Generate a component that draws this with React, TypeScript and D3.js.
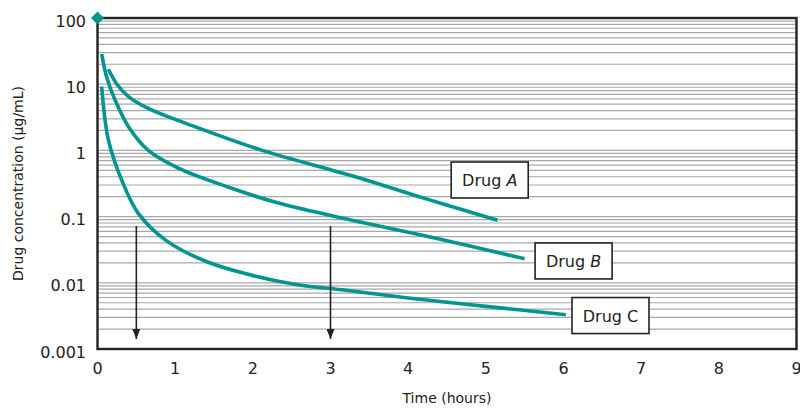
import React from "react";
import * as d3 from "d3";

const xTicks = [0, 1, 2, 3, 4, 5, 6, 7, 8, 9];
const yTicks = [0.001, 0.01, 0.1, 1, 10, 100];
const yTickLabels = ["0.001", "0.01", "0.1", "1", "10", "100"];

const drugATime = [0.14, 0.25, 0.4, 0.654, 1.255, 2.11, 3.32, 4.2, 5.15];
const drugAConc = [16.8, 10, 6.5, 4.3, 2.28, 1.01, 0.4, 0.19, 0.088];
const drugBTime = [0.054, 0.12, 0.225, 0.397, 0.654, 1.04, 1.68, 2.33, 3.32, 4.4, 5.5];
const drugBConc = [28.6, 12.5, 5.8, 2.3, 1.0, 0.54, 0.28, 0.16, 0.086, 0.046, 0.023];
const drugCTime = [0.054, 0.14, 0.31, 0.525, 0.89, 1.4, 1.9, 2.54, 3.2, 4, 5, 6.03];
const drugCConc = [9.2, 1.44, 0.36, 0.112, 0.043, 0.021, 0.0138, 0.0095, 0.0077, 0.0059, 0.0044, 0.0033];

const labels = [
  { name: "Drug ", letter: "A", italic: true, t: 5.05, c: 0.357 },
  { name: "Drug ", letter: "B", italic: true, t: 6.13, c: 0.0214 },
  { name: "Drug ", letter: "C", italic: false, t: 6.605, c: 0.0032 },
];
const arrowTimes = [0.5, 3];

const teal = "#00958f";
const font = "'DejaVu Sans', sans-serif";

export default function App() {
  const W = 800, H = 409;
  const x0 = 97.5, x1 = 796.5, y0 = 18, y1 = 349;
  const x = d3.scaleLinear().domain([0, 9]).range([x0, x1]);
  const y = d3.scaleLog().domain([0.001, 100]).range([y1, y0]);

  const grid: number[] = [];
  for (let e = -3; e < 2; e++) {
    for (let m = 1; m <= 9; m++) grid.push(m * Math.pow(10, e));
  }

  const line = d3
    .line<[number, number]>()
    .x((d) => x(d[0]))
    .y((d) => y(d[1]))
    .curve(d3.curveCatmullRom.alpha(0.5));

  const series = [
    drugATime.map((t, i) => [t, drugAConc[i]] as [number, number]),
    drugBTime.map((t, i) => [t, drugBConc[i]] as [number, number]),
    drugCTime.map((t, i) => [t, drugCConc[i]] as [number, number]),
  ];

  return (
    <svg width={W} height={H} style={{ display: "block", position: "absolute", left: 0, top: 0 }}>
      <defs>
        <marker id="arr" viewBox="0 0 10 8" refX="10" refY="4" markerWidth="10" markerHeight="8" markerUnits="userSpaceOnUse" orient="auto">
          <path d="M0,0 L10,4 L0,8 z" fill="#222" />
        </marker>
      </defs>
      <rect x={0} y={0} width={W} height={H} fill="#fff" />
      {grid.map((g, i) => (
        <line key={i} x1={x0} x2={x1} y1={y(g)} y2={y(g)} stroke="#a8a8a8" strokeWidth={1.2} />
      ))}
      {series.map((s, i) => (
        <path key={i} d={line(s) || ""} fill="none" stroke={teal} strokeWidth={3.6} strokeLinecap="butt" />
      ))}
      {arrowTimes.map((t, i) => (
        <line key={i} x1={x(t)} x2={x(t)} y1={226} y2={339} stroke="#222" strokeWidth={1.6} markerEnd="url(#arr)" />
      ))}
      <rect x={x0} y={y0} width={x1 - x0} height={y1 - y0} fill="none" stroke="#222" strokeWidth={2.4} />
      <path d={`M${x0},${y0 - 6.5} L${x0 + 6.5},${y0} L${x0},${y0 + 6.5} L${x0 - 6.5},${y0} Z`} fill={teal} />
      {labels.map((l, i) => {
        const bx = x(l.t), by = y(l.c);
        return (
          <g key={i}>
            <rect x={bx - 38.5} y={by - 18} width={77} height={36} fill="#fff" stroke="#222" strokeWidth={1.6} />
            <text x={bx} y={by + 6} textAnchor="middle" fontFamily={font} fontSize={16} fill="#222">
              {l.name}
              <tspan fontStyle={l.italic ? "italic" : "normal"}>{l.letter}</tspan>
            </text>
          </g>
        );
      })}
      {xTicks.map((t) => (
        <text key={t} x={x(t)} y={374} textAnchor="middle" fontFamily={font} fontSize={16} fill="#222">
          {t}
        </text>
      ))}
      {yTicks.map((v, i) => (
        <text key={v} x={86} y={y(v) + 8.5} textAnchor="end" fontFamily={font} fontSize={16} fill="#222">
          {yTickLabels[i]}
        </text>
      ))}
      <text x={447} y={403} textAnchor="middle" fontFamily={font} fontSize={14} fill="#222">
        Time (hours)
      </text>
      <text transform={`translate(23,${183.5}) rotate(-90)`} textAnchor="middle" fontFamily={font} fontSize={14} fill="#222">
        Drug concentration (μg/mL)
      </text>
    </svg>
  );
}
